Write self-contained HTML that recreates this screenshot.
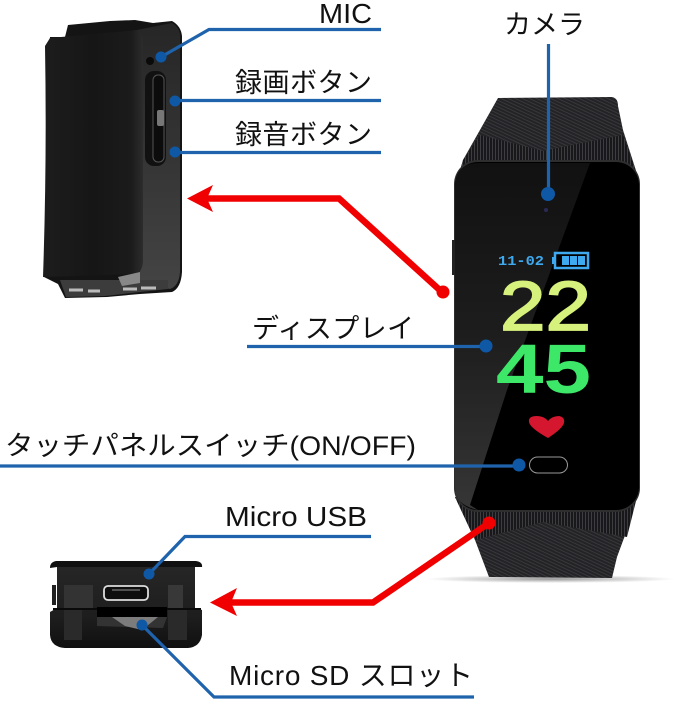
<!DOCTYPE html>
<html lang="ja">
<head>
<meta charset="utf-8">
<title>Diagram</title>
<style>
html,body{margin:0;padding:0;background:#fff;width:679px;height:705px;overflow:hidden}
svg{display:block}
text{font-family:"Liberation Sans","Noto Sans CJK JP",sans-serif;fill:#111}
</style>
</head>
<body>
<svg width="679" height="705" viewBox="0 0 679 705" xmlns="http://www.w3.org/2000/svg">
<defs>
<linearGradient id="back" x1="0" x2="1" y1="0" y2="0">
<stop offset="0" stop-color="#1d1d1d"/><stop offset=".5" stop-color="#161616"/><stop offset=".88" stop-color="#1b1b1b"/><stop offset="1" stop-color="#2c2c2c"/>
</linearGradient>
<linearGradient id="side" x1="0" x2="0" y1="0" y2="1">
<stop offset="0" stop-color="#262626"/><stop offset=".45" stop-color="#333"/><stop offset="1" stop-color="#444"/>
</linearGradient>
<linearGradient id="refl" x1="0" x2="0" y1="0" y2="1">
<stop offset="0" stop-color="#111"/><stop offset=".5" stop-color="#1d1d1d"/><stop offset="1" stop-color="#363636"/>
</linearGradient>
<linearGradient id="bot" x1="0" x2="0" y1="0" y2="1">
<stop offset="0" stop-color="#262626"/><stop offset=".6" stop-color="#1e1e1e"/><stop offset="1" stop-color="#101010"/>
</linearGradient>
<pattern id="vstripe" width="3" height="4" patternUnits="userSpaceOnUse">
<rect width="3" height="4" fill="#18181a"/><rect width="1" height="4" fill="#3e3e42"/>
</pattern>
<pattern id="diag" width="3" height="3" patternUnits="userSpaceOnUse" patternTransform="rotate(25)">
<rect width="3" height="3" fill="#232326"/><rect width="3" height="1" fill="#38383c"/>
</pattern>
<radialGradient id="shadow"><stop offset="0" stop-color="#999"/><stop offset="1" stop-color="#fff"/></radialGradient>
</defs>

<!-- Left device -->
<path d="M65 37 L68 25 L110 21 L135 20 L153 23 L172 21 Q181 26 182 36 L182 272 Q181 288 172 292 L140 294 L107 297 L65 298 L58 284 L44 277 L50 37 Z" fill="#141414"/>
<path d="M137 30 L172 23 Q180 28 180 36 L180 272 Q179 286 170 289 L140 283 Z" fill="url(#side)"/>
<path d="M45 46 L50 38 L137 30 Q143 33 143 44 L143 262 Q142 271 137 274 L43 277 Q47 160 45 46 Z" fill="url(#back)"/>
<rect x="145" y="71" width="21" height="95" rx="9" fill="#111"/>
<rect x="153" y="75" width="11" height="87" rx="5" fill="#0c0c0c" stroke="#555" stroke-width="1"/>
<rect x="157" y="110" width="7" height="16" rx="2" fill="#777"/>
<circle cx="150" cy="61" r="4" fill="#0a0a0a"/>
<path d="M60 280 L168 280 L168 289 L140 292 L105 296 L66 297 Z" fill="#3c3c3c"/>
<path d="M69 290H83M88 291H100M123 289H137M141 288H156" stroke="#bbb" stroke-width="3"/>
<path d="M118 277 L140 272 L140 283 L122 286 Z" fill="#888"/>

<!-- Watch -->
<ellipse cx="550" cy="579" rx="125" ry="4" fill="url(#shadow)"/>
<path d="M498 98 L612 97 Q618 98 618 106 L623 130 L639 180 L456 185 L463 160 Z" fill="url(#diag)"/>
<path d="M480 135 L543 151 L623 135 L639 180 L456 185 L463 160 Z" fill="url(#vstripe)"/>
<path d="M455 497 L637 497 L627 530 L617 557 L612 578 L489 577 L475 540 Z" fill="url(#diag)"/>
<path d="M455 497 L637 497 L627 537 L543 522 L475 540 Z" fill="url(#vstripe)"/>
<rect x="454" y="160" width="186" height="352" rx="24" fill="#2e2e2e"/>
<rect x="455" y="162" width="184" height="348" rx="23" fill="#000"/>
<path d="M590 163 L507 390 L470 505 L478 510 Q455 505 455 488 L455 186 Q455 163 480 163 Z" fill="url(#refl)"/>
<circle cx="546" cy="210" r="2" fill="#2a2a55"/>
<rect x="452" y="240" width="3" height="35" fill="#222"/>

<text x="498" y="265" font-size="14" font-weight="bold" style="font-family:'Liberation Mono',monospace;fill:#3fa9ef" textLength="46" lengthAdjust="spacingAndGlyphs">11-02</text>
<rect x="555" y="253" width="33" height="15" fill="none" stroke="#3fa9ef" stroke-width="2.500"/>
<rect x="552" y="257" width="3" height="7" fill="#3fa9ef"/>
<rect x="562" y="256" width="7" height="9" fill="#3fa9ef"/>
<rect x="570" y="256" width="7" height="9" fill="#3fa9ef"/>
<rect x="578" y="256" width="7" height="9" fill="#3fa9ef"/>
<text x="500" y="330" font-size="70" style="fill:#d6f27c;stroke:#d6f27c;stroke-width:1.800" textLength="91" lengthAdjust="spacingAndGlyphs">22</text>
<text x="496" y="393" font-size="70" font-weight="bold" style="fill:#3de868" textLength="95" lengthAdjust="spacingAndGlyphs">45</text>
<path d="M548 438 Q530 428 529 422 Q528 416 537 416 Q544 416 548 421 Q552 416 559 416 Q565 417 564 423 Q562 429 548 438 Z" fill="#d4162e"/>
<rect x="529.500" y="457" width="38" height="16" rx="8" fill="none" stroke="#999" stroke-width="1"/>

<!-- Bottom device -->
<path d="M57 567 L195 567 L195 608 L202 610 L202 635 Q200 647 188 648 L65 648 Q51 647 50 635 L50 612 L57 608 Z" fill="url(#bot)"/>
<path d="M50 568 Q50 562 56 561 L196 561 Q203 562 202 567 L195 567 L57 567 Z" fill="#111"/>
<rect x="64" y="585" width="29" height="23" fill="#333"/>
<rect x="168" y="585" width="15" height="25" fill="#383838"/>
<rect x="53" y="608" width="148" height="2" fill="#0a0a0a"/>
<rect x="97" y="607" width="70" height="10" fill="#000"/>
<path d="M97 617 L167 617 L163 628 L97 626 Z" fill="#333"/>
<path d="M112 617 L158 617 L142 630 L125 626 Z" fill="#7c7c7c"/>
<rect x="64" y="610" width="18" height="30" fill="#2a2a2a"/>
<rect x="168" y="610" width="19" height="30" fill="#2a2a2a"/>
<rect x="52" y="585" width="4" height="20" fill="#222"/>
<rect x="104" y="586" width="44" height="14" rx="4" fill="#0e0e0e" stroke="#ddd" stroke-width="1.800"/>
<path d="M112 590H140" stroke="#666" stroke-width="1.500"/>

<!-- Blue leader lines -->
<g fill="none" stroke="#1f63ad" stroke-width="3.200">
<path d="M161 57 L209 29.500 H381"/>
<path d="M175 100.500 H381"/>
<path d="M175 152.500 H381"/>
<path d="M548.500 44 V194"/>
<path d="M247 346.500 H486"/>
<path d="M0 466 H519"/>
<path d="M149 574 L185 536.500 H371"/>
<path d="M142 625 L214 697 H474"/>
</g>
<g fill="#0f58a6">
<circle cx="161" cy="57" r="5.500"/>
<circle cx="175" cy="101" r="5.500"/>
<circle cx="175" cy="152" r="5.500"/>
<circle cx="548" cy="194" r="7"/>
<circle cx="486" cy="346" r="6.500"/>
<circle cx="519" cy="465" r="6.500"/>
<circle cx="149" cy="574" r="5.500"/>
<circle cx="142" cy="625" r="5.500"/>
</g>

<!-- Red arrows -->
<g fill="none" stroke="#f00000" stroke-width="6.500">
<path d="M205 198.500 H339 L443 293"/>
<path d="M228 602.500 H373 L489 523"/>
</g>
<g fill="#f00000">
<path d="M187 198.500 L213 185 L207 198.500 L213 212 Z"/>
<path d="M210 602.500 L237 588 L231 602.500 L237 616 Z"/>
<circle cx="443" cy="292" r="6.500"/>
<circle cx="489" cy="523" r="6.500"/>
</g>

<!-- Labels -->
<text x="319" y="23" font-size="28" textLength="53" lengthAdjust="spacingAndGlyphs">MIC</text>
<text x="235" y="92" font-size="27" textLength="137" lengthAdjust="spacing">録画ボタン</text>
<text x="235" y="144" font-size="27" textLength="137" lengthAdjust="spacing">録音ボタン</text>
<text x="504" y="34" font-size="27" textLength="81" lengthAdjust="spacing">カメラ</text>
<text x="252" y="338" font-size="27" textLength="162" lengthAdjust="spacing">ディスプレイ</text>
<text x="5" y="455" font-size="27" textLength="411" lengthAdjust="spacingAndGlyphs">タッチパネルスイッチ(ON/OFF)</text>
<text x="225" y="526" font-size="28" textLength="142" lengthAdjust="spacingAndGlyphs">Micro USB</text>
<text x="229" y="685" font-size="28" textLength="244" lengthAdjust="spacing">Micro SD スロット</text>
</svg>
</body>
</html>
